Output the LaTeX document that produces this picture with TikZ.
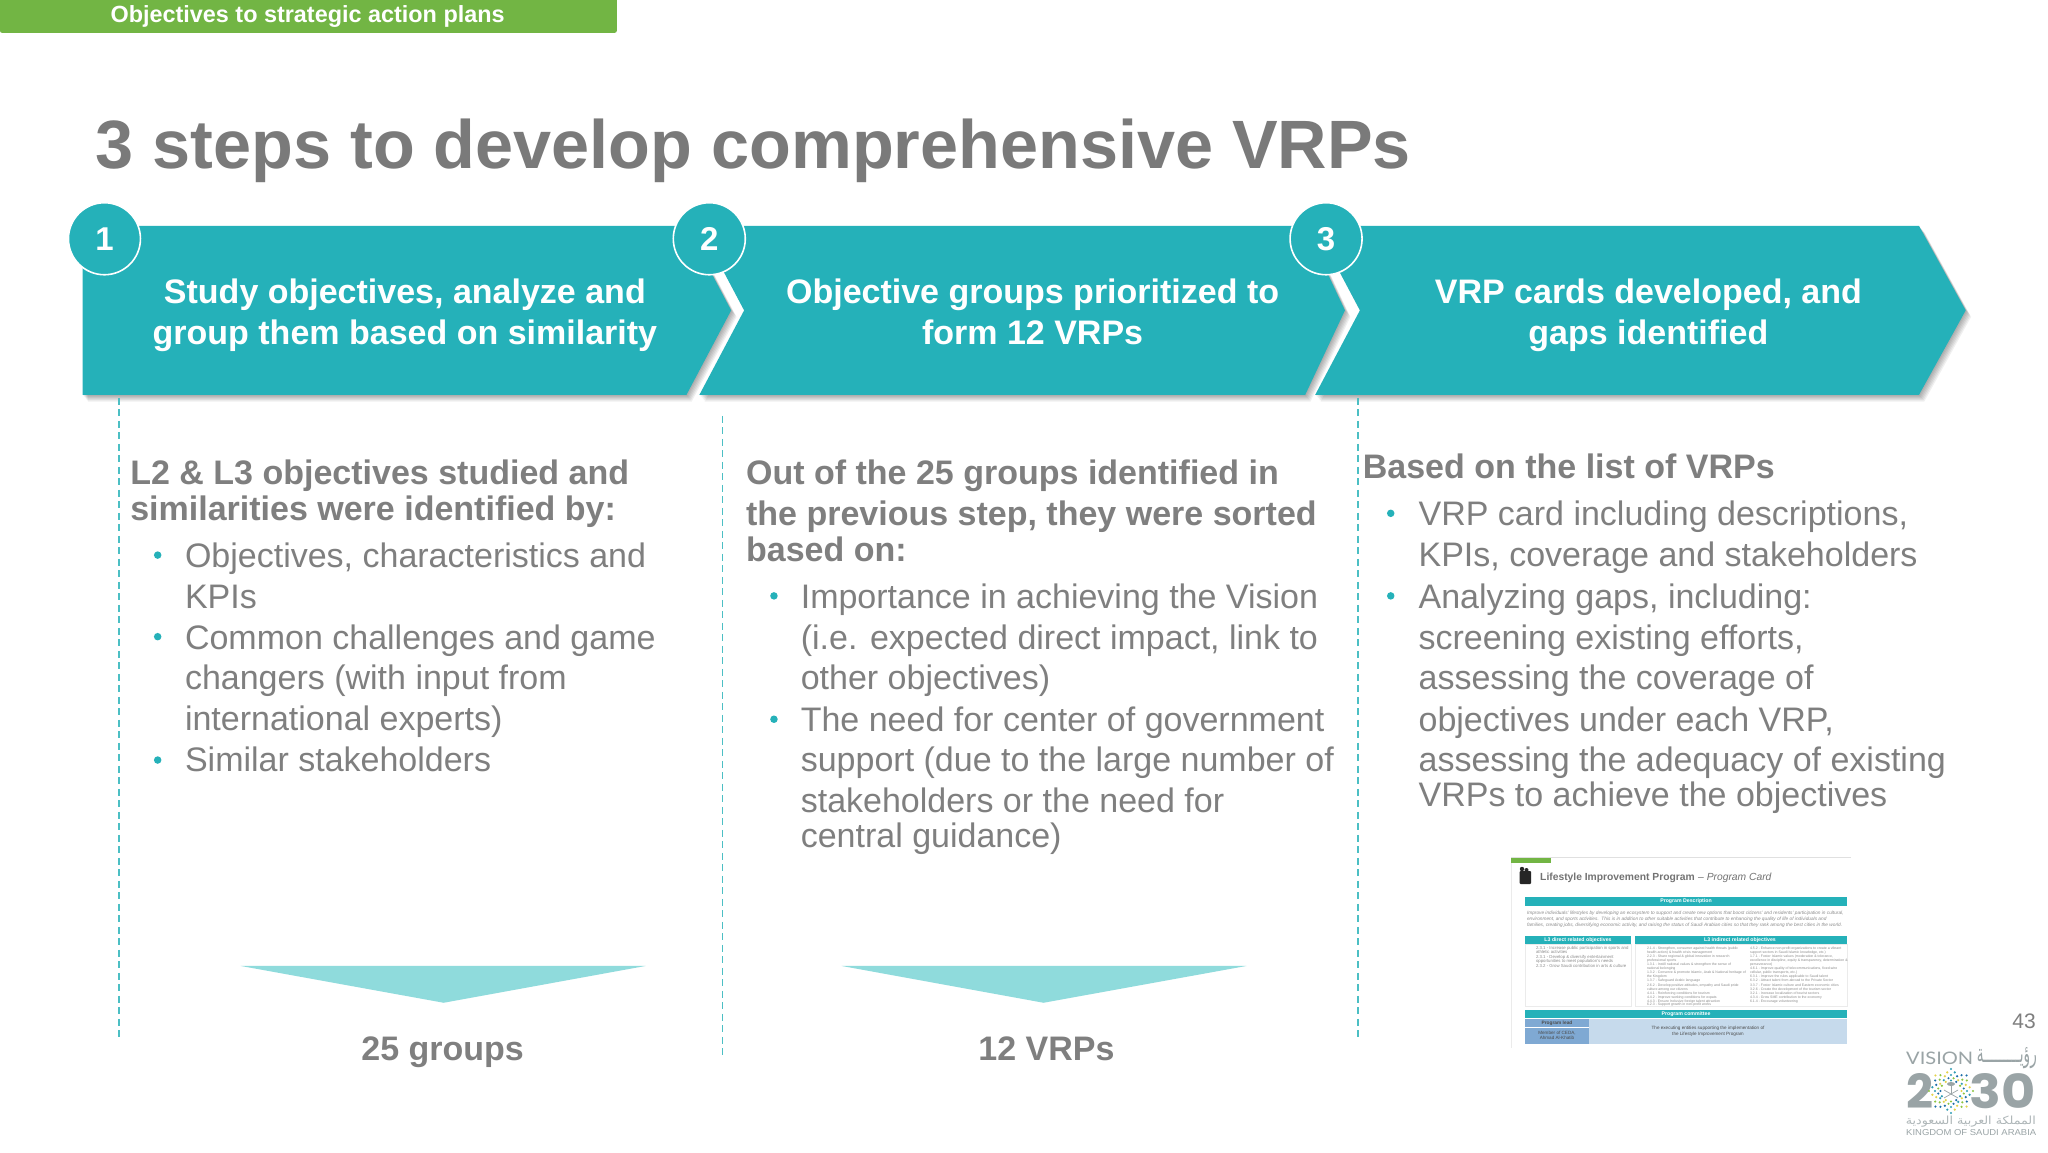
\documentclass[tikz,border=0pt]{standalone}
\usepackage{fontspec}
\usepackage{graphicx}
\setmainfont{Liberation Sans}
\newfontfamily\arabicfont[Script=Arabic]{DejaVu Sans}
\newfontfamily\logofont{Poppins}
\newfontfamily\visionfont{Lato}
\TeXXeTstate=1
\usetikzlibrary{calc}
\definecolor{tealmain}{HTML}{25B1B9}
\definecolor{tealdash}{HTML}{4CBFC4}
\definecolor{tealsoft}{HTML}{8FDBDC}
\definecolor{greentab}{HTML}{72B544}
\definecolor{graytext}{HTML}{7F7F7F}
\definecolor{graytitle}{HTML}{7A7A7A}
\definecolor{logogray}{HTML}{9AA4A6}
\definecolor{blued}{HTML}{7FA9D3}
\definecolor{bluel}{HTML}{C6DAEC}
\newcommand{\fsz}[1]{\fontsize{#1}{#1}\selectfont}
\newcommand{\chevpath}[4]{(#1,227) -- (#3,227) -- (#4,312) -- (#3,397) -- (#1,397) -- (#1+#2,312) -- cycle}
\tikzset{
  txt/.style={anchor=base west,inner sep=0pt,outer sep=0pt,text=graytext},
  body/.style={txt,font=\fsz{34}},
  head/.style={txt,font=\fsz{34}\bfseries},
  chevtxt/.style={anchor=base,inner sep=0pt,text=white,font=\fsz{34}\bfseries},
  bigbullet/.style={circle,fill=tealmain,minimum size=7.5pt,inner sep=0pt},
  stepnum/.style={circle,fill=tealmain,draw=white,line width=1.6pt,minimum size=72pt,inner sep=0pt,text=white,font=\fsz{33}\bfseries},
  divider/.style={tealdash,line width=1.4pt,dash pattern=on 7pt off 4.5pt},
  tiny/.style={txt,font=\fsz{4.3},text=black!45},
  cardbar/.style={fill=tealmain,draw=none},
  cardhead/.style={anchor=center,inner sep=0pt,text=white,font=\fsz{5.2}\bfseries},
  cardtxt/.style={anchor=center,inner sep=0pt,text=black!70,font=\fsz{4.6},align=center},
}
\begin{document}
\begin{tikzpicture}[x=1pt,y=-1pt]
\useasboundingbox (0,0) rectangle (2048,1153);
\fill[white] (0,0) rectangle (2048,1153);
\begin{scope}[x=.9948pt,y=-.9948pt]
% top tab
\fill[greentab,rounded corners=2pt] (0,-5) rectangle (620,33);
\node[anchor=base west,inner sep=0pt,text=white,font=\fsz{23.4}\bfseries] (tab) at (111,22.5) {Objectives to strategic action plans};
% title
\node[anchor=base west,inner sep=0pt,text=graytitle,font=\fsz{68.4}\bfseries] (title) at (96,169) {3 steps to develop comprehensive VRPs};
% chevrons with soft shadows
\foreach \a/\n/\b/\c in {83/0/690/735, 703/45/1312/1352, 1322/45/1929/1976}{
  \foreach \s in {1,...,6}{
    \fill[black,opacity=.06,shift={(\s*.9,\s*1.1)}] \chevpath{\a}{\n}{\b}{\c};
  }
  \fill[tealmain] \chevpath{\a}{\n}{\b}{\c};
}
% dividers
\coordinate (d1a) at (119.5,400); \coordinate (d1b) at (119.5,1043);
\coordinate (d2a) at (726,418);   \coordinate (d2b) at (726,1062);
\coordinate (d3a) at (1365,400);  \coordinate (d3b) at (1365,1043);
\draw[divider] (d1a) -- (d1b);
\draw[divider] (d2a) -- (d2b);
\draw[divider] (d3a) -- (d3b);
% step circles
\node[stepnum] (s1) at (105,240) {1};
\node[stepnum] (s2) at (713,240) {2};
\node[stepnum] (s3) at (1333,240) {3};
% chevron text
\node[chevtxt] (c1a) at (407,305) {Study objectives, analyze and};
\node[chevtxt] (c1b) at (407,346) {group them based on similarity};
\node[chevtxt] (c2a) at (1038,305) {Objective groups prioritized to};
\node[chevtxt] (c2b) at (1038,346) {form 12 VRPs};
\node[chevtxt] (c3a) at (1657,305) {VRP cards developed, and};
\node[chevtxt] (c3b) at (1657,346) {gaps identified};
% column 1
\node[head] (h1a) at (131,487.5) {L2 \& L3 objectives studied and};
\node[head] (h1b) at (131,523) {similarities were identified by:};
\foreach \y/\t [count=\i] in {570/{Objectives, characteristics and},611.5/{KPIs},652.5/{Common challenges and game},693.5/{changers (with input from},734.5/{international experts)},776/{Similar stakeholders}}{
  \node[body] (b1\i) at (186,\y) {\t};
}
\foreach \y [count=\i] in {558,640,764}{ \node[bigbullet] (p1\i) at (158.5,\y) {}; }
% column 2
\node[head] (h2a) at (750,487.5) {Out of the 25 groups identified in};
\node[head] (h2b) at (750,528.5) {the previous step, they were sorted};
\node[head] (h2c) at (750,564) {based on:};
\foreach \y/\t [count=\i] in {611.5/{Importance in achieving the Vision},652.5/{(i.e. expected direct impact, link to},693.5/{other objectives)},735/{The need for center of government},776/{support (due to the large number of},817/{stakeholders or the need for},852/{central guidance)}}{
  \node[body] (b2\i) at (805,\y) {\t};
}
\foreach \y [count=\i] in {599,723}{ \node[bigbullet] (p2\i) at (778,\y) {}; }
% column 3
\node[head] (h3a) at (1370,481.5) {Based on the list of VRPs};
\foreach \y/\t [count=\i] in {528.5/{VRP card including descriptions,},569.5/{KPIs, coverage and stakeholders},611.5/{Analyzing gaps, including:},652.5/{screening existing efforts,},693.5/{assessing the coverage of},735/{objectives under each VRP,},776/{assessing the adequacy of existing},811/{VRPs to achieve the objectives}}{
  \node[body] (b3\i) at (1426,\y) {\t};
}
\foreach \y [count=\i] in {516,599}{ \node[bigbullet] (p3\i) at (1398,\y) {}; }
% result triangles
\fill[tealsoft] (242,971) -- (649,971) -- (446,1008) -- cycle;
\fill[tealsoft] (846,971) -- (1253,971) -- (1049,1008) -- cycle;
\node[chevtxt,text=graytext] (r1) at (445,1066) {25 groups};
\node[chevtxt,text=graytext] (r2) at (1052,1066) {12 VRPs};
\end{scope}
% program card thumbnail
\draw[black!12,line width=.5pt] (1511,857.5) -- (1851,857.5);
\draw[black!8,line width=.5pt] (1511,857.5) -- (1511,1048);
\fill[greentab] (1511,858) rectangle (1551,863);
\fill[black!85] (1522,869) circle (2.2pt) (1526.5,870) circle (2pt);
\fill[black!85,rounded corners=1pt] (1519.5,871) rectangle (1531,884);
\node[anchor=base west,inner sep=0pt,text=black!55,font=\fsz{10.3}\bfseries] (cardt) at (1540,880) {Lifestyle Improvement Program};
\node[anchor=base west,inner sep=0pt,text=black!55,font=\fsz{10.3}\itshape] (cardu) at (1698,880) {-- Program Card};
\fill[cardbar] (1525,897) rectangle (1847,906);
\node[cardhead] (cd1) at (1686,901.5) {Program Description};
\node[tiny,font=\fsz{4.75}\itshape] (cd2) at (1527,914) {Improve individuals' lifestyles by developing an ecosystem to support and create new options that boost citizens' and residents' participation in cultural,};
\node[tiny,font=\fsz{4.75}\itshape] (cd3) at (1527,920) {environment, and sports activities.\ \ This is in addition to other suitable activities that contribute to enhancing the quality of life of individuals and};
\node[tiny,font=\fsz{4.75}\itshape] (cd4) at (1527,926) {families, creating jobs, diversifying economic activity, and raising the status of Saudi Arabian cities so that they rank among the best cities in the world.};
\fill[cardbar] (1525,936) rectangle (1631,944);
\fill[cardbar] (1635,936) rectangle (1847,944);
\node[cardhead] (cd5) at (1578,940) {L3 direct related objectives};
\node[cardhead] (cd6) at (1740,940) {L3 indirect related objectives};
\draw[black!8,line width=.4pt] (1525,944) rectangle (1631,1006);
\draw[black!8,line width=.4pt] (1635,944) rectangle (1847,1006);
\foreach \y/\t [count=\i] in {949/{2.3.1 - Increase public participation in sports and},953/{athletic activities},958/{2.3.1 - Develop \& diversify entertainment},962.5/{opportunities to meet population's needs},967/{2.3.2 - Grow Saudi contribution in arts \& culture}}{
  \node[tiny] (l\i) at (1536,\y) {\t};
}
\foreach \y/\t [count=\i] in {949/{2.1.4 - Strengthen, consumer against health threats (public},953/{health action) \& health crisis management},957/{2.2.3 - Share regional \& global innovation in research},961/{professional sports},965.5/{1.3.1 - Instill national values \& strengthen the sense of},969/{national belonging},973.5/{1.3.2 - Conserve \& promote Islamic, Arab \& National heritage of},977.5/{the Kingdom},981.5/{1.3.7 - Safeguard Arabic language},986/{2.6.2 - Develop positive attitudes, empathy and Saudi pride},990/{culture among our citizens},994/{4.4.1 - Reinforcing conditions for tourism},998/{4.4.2 - Improve working conditions for expats},1002/{4.4.3 - Ensure Inclusive foreign talent attraction},1005.5/{6.2.3 - Support growth in non-profit works}}{
  \node[tiny,font=\fsz{3.5}] (i\i) at (1647,\y) {\t};
}
\foreach \y/\t [count=\i] in {949/{4.5.2 - Enhance non-profit organizations to create a vibrant},953/{support sectors in Saudi Islamic knowledge, etc.)},957/{1.7.1 - Foster Islamic values (moderation \& tolerance,},961/{excellence in discipline, equity \& transparency, determination \&},965/{perseverance)},969.5/{4.6.1 - Improve quality of telecommunications, fixed-wire},973.5/{cellular, public transports, etc.)},977.5/{6.3.1 - Improve the rules applicable to Saudi talent},981.5/{6.3.2 - Attract talent from abroad to the Private Sector},986/{3.3.7 - Foster Islamic culture and Eastern economic cities},990/{3.2.6 - Create the development of the tourism sector},994/{3.2.1 - Increase localization of tourist sectors},998/{4.3.4 - Grow SME contribution to the economy},1002/{6.1.4 - Encourage volunteering}}{
  \node[tiny,font=\fsz{3.5}] (j\i) at (1750,\y) {\t};
}
\fill[cardbar] (1525,1010) rectangle (1847,1018);
\node[cardhead] (cd7) at (1686,1014) {Program committee};
\fill[bluel] (1589,1019) rectangle (1847,1044);
\fill[blued] (1525,1019) rectangle (1589,1044);
\draw[white,line width=.4pt] (1525,1027) -- (1589,1027);
\node[cardtxt,font=\fsz{4.8}\bfseries] (cd8) at (1557,1023) {Program lead};
\node[cardtxt] (cd9) at (1557,1035.5) {Member of CEDA,\\[1pt]Ahmad Al-Khatib};
\node[cardtxt] (cd10) at (1708,1031) {The executing entities supporting the implementation of\\[1pt]the Lifestyle Improvement Program};
% page number
\node[anchor=base east,inner sep=0pt,text=graytext,font=\fsz{21}] (pg) at (2036,1028) {43};
% logo
\node[anchor=base west,inner sep=0pt,text=logogray] (v1) at (1906,1064) {\resizebox{67pt}{12.5pt}{\visionfont VISION}};
\node[anchor=base east,inner sep=0pt,text=logogray] (v2) at (2037,1062) {\resizebox{60pt}{15pt}{\arabicfont\beginR رؤيـــــــــة\endR}};
\node[anchor=base west,inner sep=0pt,text=logogray] (y1) at (1906,1108) {\resizebox{27pt}{35pt}{\logofont\bfseries 2}};
\node[anchor=base east,inner sep=0pt,text=logogray] (y2) at (2036,1108) {\resizebox{66pt}{35pt}{\logofont\bfseries 30}};
\foreach \r/\k/\o in {22/8/0,19/16/11.25,16/16/0,13/16/11.25,10.5/12/0}{
  \foreach \i in {1,...,\k}{
    \pgfmathsetmacro{\ang}{\o+\i*360/\k}
    \pgfmathtruncatemacro{\m}{mod(\i*7+round(\r),4)}
    \ifcase\m \def\cc{2E9CB3}\or \def\cc{1F6FA8}\or \def\cc{8CC540}\or \def\cc{E3D34B}\fi
    \definecolor{dotc}{HTML}{\cc}
    \fill[dotc] ($(1951,1091)+(\ang:\r pt and \r pt)$) circle (1.2pt);
  }
}
\draw[logogray,line width=.8pt] (1951,1085) -- (1951,1095);
\fill[logogray] (1951,1084) ellipse (4pt and 2pt);
\draw[logogray,line width=.7pt] (1944,1090) -- (1958,1098) (1958,1090) -- (1944,1098);
\node[anchor=base east,inner sep=0pt,text=logogray!80] (a1) at (2036,1124) {\resizebox{130pt}{8.5pt}{\arabicfont\beginR المملكة العربية السعودية\endR}};
\node[anchor=base west,inner sep=0pt,text=logogray] (k1) at (1906,1135.5) {\resizebox{130pt}{6pt}{\fsz{9}KINGDOM OF SAUDI ARABIA}};
\end{tikzpicture}
\end{document}
